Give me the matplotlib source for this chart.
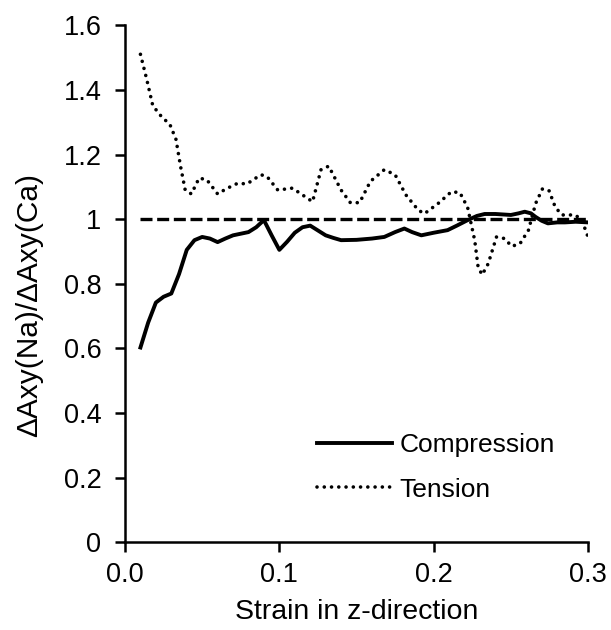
import numpy as np
import matplotlib.pyplot as plt

plt.rcParams['font.family'] = ['Liberation Sans', 'DejaVu Sans']

# Compression: strain vs ratio
comp_strain = [0.010, 0.015, 0.020, 0.025, 0.030, 0.035, 0.040, 0.045, 0.050, 0.055,
               0.060, 0.065, 0.070, 0.075, 0.080, 0.085, 0.090, 0.095, 0.100, 0.105,
               0.110, 0.115, 0.120, 0.125, 0.130, 0.135, 0.140, 0.150, 0.160, 0.168,
               0.175, 0.181, 0.186, 0.192, 0.200, 0.209, 0.215, 0.222, 0.228, 0.233,
               0.240, 0.250, 0.255, 0.259, 0.263, 0.266, 0.270, 0.274, 0.280, 0.285,
               0.292, 0.300]
comp_ratio = [0.603, 0.680, 0.742, 0.760, 0.770, 0.830, 0.905, 0.935, 0.945, 0.940,
              0.929, 0.940, 0.950, 0.955, 0.960, 0.975, 0.997, 0.950, 0.905, 0.930,
              0.958, 0.975, 0.980, 0.965, 0.950, 0.942, 0.935, 0.936, 0.940, 0.945,
              0.960, 0.971, 0.960, 0.950, 0.958, 0.966, 0.980, 0.997, 1.010, 1.016,
              1.016, 1.013, 1.018, 1.023, 1.018, 1.007, 0.995, 0.987, 0.990, 0.990,
              0.992, 0.990]

# Tension: strain vs ratio
tens_strain = [0.010, 0.014, 0.018, 0.024, 0.029, 0.033, 0.036, 0.039, 0.043, 0.048,
               0.053, 0.060, 0.066, 0.073, 0.079, 0.088, 0.092, 0.099, 0.1085, 0.1215,
               0.127, 0.132, 0.140, 0.146, 0.152, 0.159, 0.168, 0.175, 0.182, 0.190,
               0.194, 0.203, 0.2115, 0.217, 0.222, 0.2266, 0.2288, 0.2314, 0.2353, 0.2407,
               0.246, 0.2505, 0.2559, 0.2614, 0.2661, 0.2705, 0.2748, 0.2787, 0.283, 0.2917,
               0.296, 0.300]
tens_ratio = [1.510, 1.434, 1.351, 1.315, 1.294, 1.247, 1.163, 1.090, 1.078, 1.127,
              1.122, 1.078, 1.095, 1.111, 1.109, 1.1375, 1.132, 1.090, 1.096, 1.054,
              1.153, 1.164, 1.090, 1.051, 1.051, 1.117, 1.153, 1.1375, 1.075, 1.028,
              1.017, 1.049, 1.085, 1.082, 1.036, 0.934, 0.851, 0.828, 0.862, 0.945,
              0.940, 0.916, 0.924, 0.966, 1.049, 1.094, 1.0875, 1.038, 1.013, 1.013,
              0.997, 0.945]

# reference line at ratio = 1
ref_strain = [0.01, 0.30]
ref_ratio = [1.0, 1.0]

xticks = [0.0, 0.1, 0.2, 0.3]
xticklabels = ['0.0', '0.1', '0.2', '0.3']
yticks = [0, 0.2, 0.4, 0.6, 0.8, 1.0, 1.2, 1.4, 1.6]
yticklabels = ['0', '0.2', '0.4', '0.6', '0.8', '1', '1.2', '1.4', '1.6']

fig = plt.figure(figsize=(6.11, 6.30), dpi=100)
ax = fig.add_axes([0.2046, 0.139, 0.7578, 0.821])

ax.plot(ref_strain, ref_ratio, color='k', linewidth=2.4, linestyle=(0, (3.6, 1.4)))
ax.plot(comp_strain, comp_ratio, color='k', linewidth=2.8, label='Compression',
        solid_joinstyle='round')
ax.plot(tens_strain, tens_ratio, color='k', linewidth=2.6,
        linestyle=(0, (0.01, 2.0)), dash_capstyle='round', label='Tension')

ax.set_xlim(0, 0.3)
ax.set_ylim(0, 1.6)
ax.set_xticks(xticks)
ax.set_xticklabels(xticklabels)
ax.set_yticks(yticks)
ax.set_yticklabels(yticklabels)

ax.spines['top'].set_color('none')
ax.spines['right'].set_color('none')
ax.spines['left'].set_linewidth(1.8)
ax.spines['bottom'].set_linewidth(1.8)
ax.tick_params(axis='both', which='both', direction='out', length=7, width=1.8,
               labelsize=19.5)
ax.tick_params(axis='y', pad=10)
ax.tick_params(axis='x', pad=7)

ax.set_xlabel('Strain in z-direction', fontsize=20.5, labelpad=8)
ax.set_ylabel('ΔAxy(Na)/ΔAxy(Ca)', fontsize=21.5)
ax.yaxis.set_label_coords(-0.177, 0.459)

leg = ax.legend(loc='center left', bbox_to_anchor=(0.387, 0.145), fontsize=19,
                frameon=False, borderpad=0, handlelength=2.84, handletextpad=0.28,
                labelspacing=0.78)

fig.savefig('out.png', dpi=100)
